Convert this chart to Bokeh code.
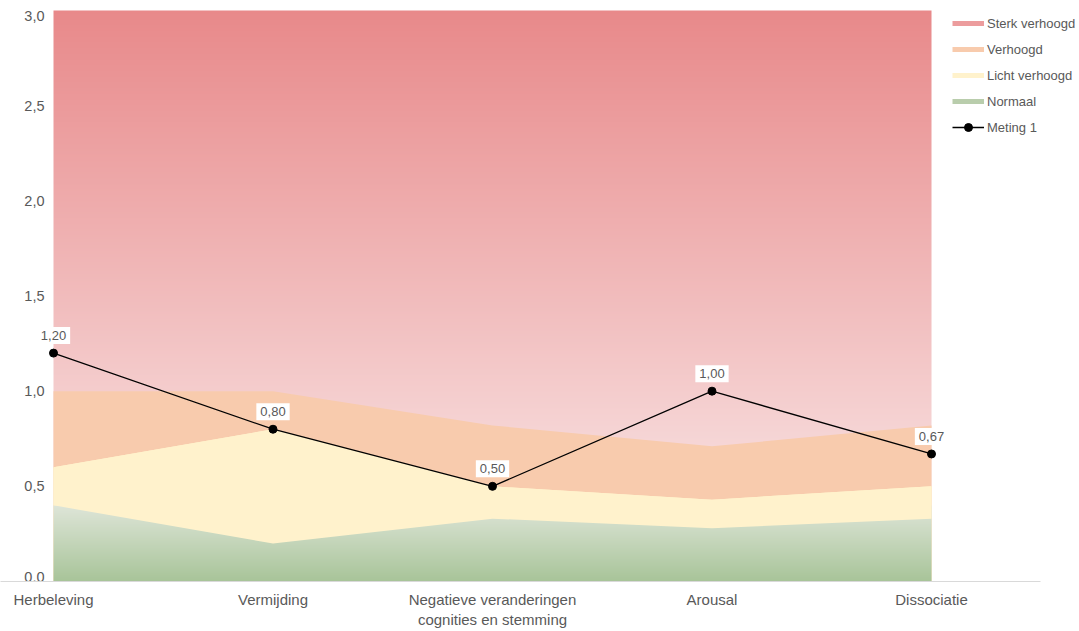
import numpy as np
from bokeh.plotting import figure
from bokeh.models import (FixedTicker, Label, Legend, LegendItem, Range1d)
from bokeh.core.properties import value
from bokeh.embed import file_html
from bokeh.resources import INLINE

# ---------------- data ----------------
categories = ["Herbeleving", "Vermijding", "Negatieve veranderingen\ncognities en stemming", "Arousal", "Dissociatie"]
normaal = [0.40, 0.20, 0.33, 0.28, 0.33]
licht_verhoogd = [0.20, 0.60, 0.17, 0.15, 0.17]
verhoogd = [0.40, 0.20, 0.32, 0.28, 0.32]
sterk_verhoogd = [2.00, 2.00, 2.18, 2.29, 2.18]
meting_1 = [1.20, 0.80, 0.50, 1.00, 0.67]
y_ticks = [0.0, 0.5, 1.0, 1.5, 2.0, 2.5, 3.0]
y_tick_labels = ["0,0", "0,5", "1,0", "1,5", "2,0", "2,5", "3,0"]

FONT = "Liberation Sans"
TXT = "#595959"

x = np.arange(len(categories))
n_top = np.array(normaal)
l_top = n_top + np.array(licht_verhoogd)
v_top = l_top + np.array(verhoogd)
s_top = v_top + np.array(sterk_verhoogd)
y_max = float(np.max(s_top))

# layout in screen pixels
W, H = 1079, 631
AXIS_R = 1040      # where the category axis line ends
CAT0 = 53          # pixel of first category
STEP = 219.5       # pixels between categories
TOP_PAD = 10       # pixels above y_max inside the frame
FRAME_B = 581      # pixel of y = 0
x_start = -CAT0 / STEP
x_end = (W - CAT0) / STEP
y_end = y_max + TOP_PAD * y_max / (FRAME_B - TOP_PAD)

p = figure(width=W, height=H, output_backend="svg", toolbar_location=None,
           x_range=Range1d(x_start, x_end), y_range=Range1d(0, y_end),
           min_border_left=0, min_border_right=0, min_border_top=0, min_border_bottom=H - FRAME_B)
p.outline_line_color = None
p.xgrid.visible = False
p.ygrid.visible = False
p.background_fill_color = "white"
p.border_fill_color = "white"


def gradient(top_rgb, bottom_rgb, n=400):
    t = np.linspace(0, 1, n)[:, None]  # row 0 = bottom
    top = np.array(top_rgb, dtype=float)
    bot = np.array(bottom_rgb, dtype=float)
    rgb = bot + (top - bot) * t
    img = np.empty((n, 1), dtype=np.uint32)
    view = img.view(dtype=np.uint8).reshape((n, 1, 4))
    view[:, 0, 0] = rgb[:, 0].round().astype(np.uint8)
    view[:, 0, 1] = rgb[:, 1].round().astype(np.uint8)
    view[:, 0, 2] = rgb[:, 2].round().astype(np.uint8)
    view[:, 0, 3] = 255
    return img


xmin, xmax = float(x[0]), float(x[-1])
# Sterk verhoogd (gradient)
p.image_rgba(image=[gradient((232, 137, 138), (250, 238, 238))], x=xmin, y=0, dw=xmax - xmin, dh=y_max)
# Verhoogd
p.varea(x=x, y1=0, y2=v_top, fill_color="#F8CBAD")
# Licht verhoogd
p.varea(x=x, y1=0, y2=l_top, fill_color="#FFF2CC")
# Normaal (gradient)
nmax = float(np.max(n_top))
p.image_rgba(image=[gradient((222, 229, 216), (168, 196, 153))], x=xmin, y=0, dw=xmax - xmin, dh=nmax)
p.varea(x=x, y1=n_top, y2=l_top, fill_color="#FFF2CC")

# Meting 1
line = p.line(x=x, y=meting_1, line_color="black", line_width=1.3)
pts = p.scatter(x=x, y=meting_1, size=8, fill_color="black", line_color="black")

for xi, v in zip(x, meting_1):
    p.add_layout(Label(x=float(xi), y=v, text=f"{v:.2f}".replace(".", ","), text_align="center",
                       text_baseline="bottom", y_offset=9, text_font=FONT, text_font_size="13px",
                       text_color=TXT, background_fill_color="white", padding=4))

# y tick labels (drawn inside the frame, left of the first category); end labels nudged inward
y_off = [-5 if t == min(y_ticks) else (5 if t == max(y_ticks) else 0) for t in y_ticks]
p.text(x=[x_start + (CAT0 - 9) / STEP] * len(y_ticks), y=y_ticks, text=y_tick_labels,
       y_offset=y_off, text_align="right", text_baseline="middle", text_font=value(FONT),
       text_font_size="14.5px", text_color=TXT)

# legend dummies
nan = [np.nan]
d1 = p.line(x=nan, y=nan, line_color="#EC9C9D", line_width=5)
d2 = p.line(x=nan, y=nan, line_color="#F8CBAD", line_width=5)
d3 = p.line(x=nan, y=nan, line_color="#FFF2CC", line_width=5)
d4 = p.line(x=nan, y=nan, line_color="#B9CDAC", line_width=5)
legend = Legend(items=[
    LegendItem(label="Sterk verhoogd", renderers=[d1]),
    LegendItem(label="Verhoogd", renderers=[d2]),
    LegendItem(label="Licht verhoogd", renderers=[d3]),
    LegendItem(label="Normaal", renderers=[d4]),
    LegendItem(label="Meting 1", renderers=[line, pts]),
], location=(952, 444), orientation="vertical", glyph_width=32, glyph_height=20, label_height=20,
    spacing=6, padding=0, margin=0, label_standoff=3, border_line_color=None,
    background_fill_alpha=0, label_text_font=FONT, label_text_font_size="13px", label_text_color=TXT)
p.add_layout(legend)

# x axis
p.xaxis.ticker = FixedTicker(ticks=list(x))
p.xaxis.major_label_overrides = {int(i): c for i, c in zip(x, categories)}
p.xaxis.bounds = (x_start, (AXIS_R - CAT0) / STEP)
p.xaxis.major_tick_line_color = None
p.xaxis.major_tick_out = 0
p.xaxis.major_tick_in = 0
p.xaxis.minor_tick_line_color = None
p.xaxis.minor_tick_out = 0
p.xaxis.axis_line_color = "#D9D9D9"
p.xaxis.major_label_standoff = 9
p.xaxis.major_label_text_font = FONT
p.xaxis.major_label_text_font_size = "15px"
p.xaxis.major_label_text_color = TXT

p.yaxis.visible = False

open("out.html", "w").write(file_html(p, INLINE))
